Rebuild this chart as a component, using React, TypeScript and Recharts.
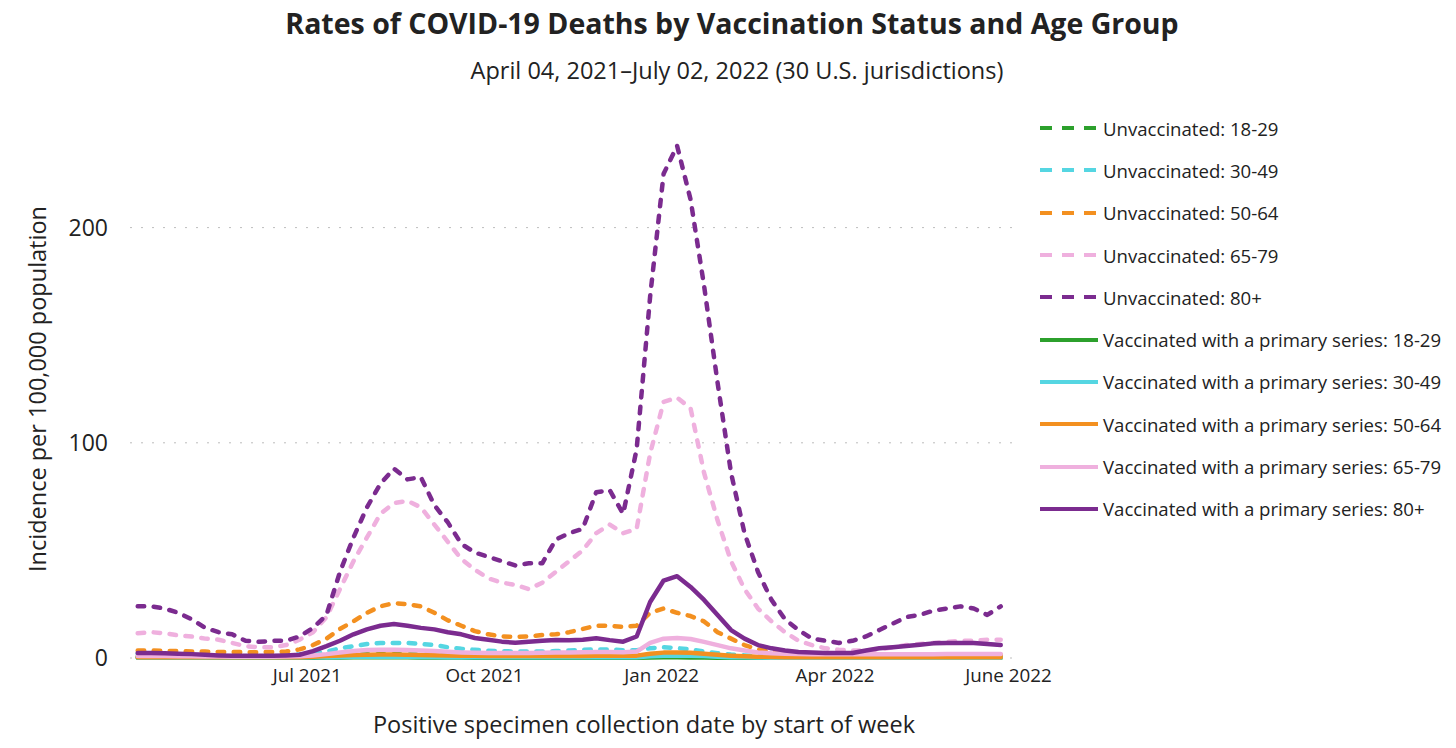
import { LineChart, Line, XAxis, YAxis, CartesianGrid, Label } from "recharts";

// weekly rates per 100,000, weeks starting 2021-04-04 through 2022-06-26
const WEEK_COUNT = 65;
const WEEK_DAYS = Array.from({ length: WEEK_COUNT }, (_, i) => i * 7);

const UNVAX_18_29 = [
  0.7, 0.7, 0.7, 0.6, 0.6, 0.5, 0.5, 0.5, 0.4, 0.4, 0.4, 0.5, 0.6, 0.8, 1, 1.3, 1.5, 1.7, 1.8, 1.8,
  1.7, 1.6, 1.4, 1.2, 1.1, 1, 0.9, 0.8, 0.8, 0.8, 0.8, 0.8, 0.9, 0.9, 1, 1, 0.9, 0.9, 1.1, 1.3,
  1.2, 1, 0.8, 0.6, 0.5, 0.4, 0.3, 0.3, 0.3, 0.3, 0.3, 0.3, 0.3, 0.3, 0.3, 0.3, 0.3, 0.3, 0.3, 0.3,
  0.3, 0.3, 0.3, 0.3, 0.3,
];
const UNVAX_30_49 = [
  2, 2, 1.9, 1.8, 1.7, 1.6, 1.5, 1.4, 1.3, 1.3, 1.3, 1.4, 1.6, 2, 3, 4.5, 5.5, 6.5, 7, 7,
  7, 6.5, 6, 5, 4.3, 3.8, 3.4, 3.2, 3, 3, 3, 3.2, 3.5, 3.8, 4, 4, 3.6, 3.6, 4.5, 5,
  4.6, 4, 3, 2.2, 1.6, 1.2, 0.9, 0.8, 0.7, 0.6, 0.6, 0.5, 0.5, 0.5, 0.5, 0.5, 0.5, 0.6, 0.6, 0.6,
  0.6, 0.6, 0.6, 0.6, 0.6,
];
const UNVAX_50_64 = [
  3.5, 3.5, 3.3, 3.2, 3, 3, 2.8, 2.8, 2.7, 2.7, 2.8, 3, 4, 6, 9, 13.5, 17, 21, 24, 25.5,
  25, 24, 21, 17.5, 15, 12.5, 11, 10, 9.8, 10, 10.7, 11, 12, 13.5, 15, 15, 14.4, 15, 21, 23,
  21, 19.5, 17, 12, 9, 6, 4, 3, 2.2, 1.8, 1.5, 1.3, 1.2, 1.2, 1.2, 1.2, 1.2, 1.3, 1.3, 1.3,
  1.3, 1.4, 1.4, 1.4, 1.4,
];
const UNVAX_65_79 = [
  11.5, 12, 11.5, 10.5, 10, 9, 8.5, 7, 5.5, 5, 5, 6, 8.5, 12, 19, 32, 45, 56, 67, 72,
  73, 70, 62, 54, 46, 41, 37, 35, 34, 32, 35, 40, 45, 50, 58, 62, 58, 60, 95, 119,
  121, 116, 86, 64, 45, 32, 23, 17, 12, 8, 6, 4.5, 3.8, 3.5, 3.5, 4, 5, 6, 6.5, 7,
  7.5, 8, 8, 8.5, 8.5,
];
const UNVAX_80 = [
  24, 24, 23, 21, 18, 14, 12, 11, 8, 7.5, 8, 8, 10, 14, 20, 40, 56, 70, 81, 88,
  83, 84, 71, 63, 53, 49, 47, 45, 43, 44, 44, 55, 58, 60, 77, 78, 67, 97, 168, 225,
  238, 213, 173, 128, 86, 58, 40, 27, 18, 13, 9, 8, 7, 8, 10, 13, 16, 19, 20, 22,
  23, 24, 23, 20, 24,
];
const VAX_18_29 = [
  0.1, 0.1, 0.1, 0.1, 0.1, 0.1, 0.1, 0.1, 0.1, 0.1, 0.1, 0.1, 0.1, 0.1, 0.2, 0.2, 0.3, 0.3, 0.3, 0.3,
  0.3, 0.2, 0.2, 0.2, 0.2, 0.1, 0.1, 0.1, 0.1, 0.1, 0.1, 0.1, 0.1, 0.1, 0.1, 0.1, 0.1, 0.1, 0.2, 0.3,
  0.3, 0.2, 0.2, 0.1, 0.1, 0.1, 0.1, 0.1, 0.1, 0.1, 0.1, 0.1, 0.1, 0.1, 0.1, 0.1, 0.1, 0.1, 0.1, 0.1,
  0.1, 0.1, 0.1, 0.1, 0.1,
];
const VAX_30_49 = [
  0.2, 0.2, 0.2, 0.2, 0.2, 0.2, 0.2, 0.2, 0.2, 0.2, 0.2, 0.2, 0.2, 0.3, 0.4, 0.5, 0.6, 0.6, 0.6, 0.6,
  0.6, 0.5, 0.5, 0.4, 0.4, 0.4, 0.3, 0.3, 0.3, 0.3, 0.3, 0.3, 0.3, 0.3, 0.3, 0.3, 0.3, 0.4, 0.8, 1.1,
  1.2, 1.1, 0.9, 0.6, 0.4, 0.3, 0.2, 0.15, 0.15, 0.15, 0.15, 0.15, 0.15, 0.15, 0.15, 0.15, 0.15, 0.15, 0.15, 0.15,
  0.15, 0.15, 0.15, 0.15, 0.15,
];
const VAX_50_64 = [
  0.4, 0.4, 0.4, 0.4, 0.4, 0.4, 0.4, 0.4, 0.4, 0.4, 0.4, 0.4, 0.4, 0.6, 0.9, 1.2, 1.4, 1.5, 1.6, 1.6,
  1.5, 1.4, 1.3, 1.2, 1.1, 1, 0.9, 0.9, 0.9, 0.9, 0.9, 0.9, 0.9, 0.9, 1, 1, 1, 1.1, 2, 2.5,
  2.6, 2.4, 2, 1.5, 1.1, 0.8, 0.6, 0.5, 0.4, 0.4, 0.4, 0.4, 0.4, 0.4, 0.4, 0.4, 0.4, 0.4, 0.4, 0.4,
  0.4, 0.4, 0.4, 0.4, 0.4,
];
const VAX_65_79 = [
  0.9, 0.9, 0.9, 0.8, 0.8, 0.7, 0.7, 0.6, 0.6, 0.6, 0.6, 0.7, 0.8, 1.2, 1.8, 2.6, 3.3, 3.7, 3.8, 3.8,
  3.7, 3.5, 3.2, 2.9, 2.6, 2.4, 2.3, 2.3, 2.3, 2.3, 2.4, 2.5, 2.6, 2.7, 2.8, 2.8, 2.7, 3, 7, 9,
  9.3, 8.8, 7.5, 6, 4.5, 3.5, 2.6, 2.2, 2, 1.9, 1.8, 1.8, 1.7, 1.7, 1.7, 1.7, 1.8, 1.8, 1.8, 1.8,
  1.9, 1.9, 1.9, 1.9, 1.9,
];
const VAX_80 = [
  2.3, 2.3, 2.2, 2, 1.8, 1.5, 1.2, 1, 1, 1, 1, 1.2, 1.5, 3.2, 5.5, 8, 11, 13.3, 15, 15.8,
  15, 14, 13.3, 12, 11, 9.3, 8.5, 7.6, 7.1, 7.5, 8, 8.4, 8.2, 8.5, 9.2, 8.3, 7.6, 10, 26, 36,
  38, 33, 27, 20, 13, 9, 6, 4.5, 3.5, 2.8, 2.5, 2.3, 2.3, 2.3, 3.5, 4.5, 5, 5.6, 6.2, 6.8,
  7, 7, 7, 6.5, 6,
];

const X_TICKS = [88, 180, 272, 362, 452];
const X_TICK_LABELS = ["Jul 2021", "Oct 2021", "Jan 2022", "Apr 2022", "June 2022"];
const Y_TICKS = [0, 100, 200];

const GREEN = "#2ca02c";
const CYAN = "#55d6e2";
const ORANGE = "#f39020";
const PINK = "#efb0de";
const PURPLE = "#7b2b8f";

const FONT = '"Segoe UI", "Open Sans", sans-serif';

const SERIES = [
  { key: "u1829", name: "Unvaccinated: 18-29", values: UNVAX_18_29, color: GREEN, dashed: true },
  { key: "u3049", name: "Unvaccinated: 30-49", values: UNVAX_30_49, color: CYAN, dashed: true },
  { key: "u5064", name: "Unvaccinated: 50-64", values: UNVAX_50_64, color: ORANGE, dashed: true },
  { key: "u6579", name: "Unvaccinated: 65-79", values: UNVAX_65_79, color: PINK, dashed: true },
  { key: "u80", name: "Unvaccinated: 80+", values: UNVAX_80, color: PURPLE, dashed: true },
  { key: "v1829", name: "Vaccinated with a primary series: 18-29", values: VAX_18_29, color: GREEN, dashed: false },
  { key: "v3049", name: "Vaccinated with a primary series: 30-49", values: VAX_30_49, color: CYAN, dashed: false },
  { key: "v5064", name: "Vaccinated with a primary series: 50-64", values: VAX_50_64, color: ORANGE, dashed: false },
  { key: "v6579", name: "Vaccinated with a primary series: 65-79", values: VAX_65_79, color: PINK, dashed: false },
  { key: "v80", name: "Vaccinated with a primary series: 80+", values: VAX_80, color: PURPLE, dashed: false },
];

const data = WEEK_DAYS.map((day, i) => {
  const row: Record<string, number> = { day };
  SERIES.forEach((s) => {
    row[s.key] = s.values[i];
  });
  return row;
});

function LegendList() {
  return (
    <div
      style={{
        position: "absolute",
        left: 1040,
        top: 107,
        fontFamily: FONT,
        fontSize: 18.6,
        color: "#222",
      }}
    >
      {SERIES.map((s) => (
        <div key={s.key} style={{ height: 42.3, display: "flex", alignItems: "center" }}>
          <svg width={58} height={8} style={{ flex: "none" }}>
            <line
              x1={0}
              y1={4}
              x2={58}
              y2={4}
              stroke={s.color}
              strokeWidth={4}
              strokeDasharray={s.dashed ? "12 10" : undefined}
            />
          </svg>
          <span style={{ marginLeft: 5, whiteSpace: "nowrap" }}>{s.name}</span>
        </div>
      ))}
    </div>
  );
}

export default function App() {
  return (
    <div style={{ position: "absolute", left: 0, top: 0, width: 1456, height: 748, background: "#fff" }}>
      <div
        style={{
          position: "absolute",
          top: 4,
          left: 4,
          width: 1456,
          textAlign: "center",
          fontFamily: FONT,
          fontWeight: 700,
          fontSize: 28.5,
          color: "#222",
        }}
      >
        Rates of COVID-19 Deaths by Vaccination Status and Age Group
      </div>
      <div
        style={{
          position: "absolute",
          top: 54,
          left: 9,
          width: 1456,
          textAlign: "center",
          fontFamily: FONT,
          fontSize: 23.5,
          color: "#222",
        }}
      >
        April 04, 2021–July 02, 2022 (30 U.S. jurisdictions)
      </div>
      <LineChart
        width={1456}
        height={748}
        data={data}
        margin={{ top: 120, right: 436, bottom: 0, left: 0 }}
        style={{ position: "absolute", left: 0, top: 0 }}
      >
        <CartesianGrid
          vertical={false}
          horizontalValues={Y_TICKS}
          stroke="#bdbdbd"
          strokeDasharray="2 9"
        />
        <XAxis
          dataKey="day"
          type="number"
          domain={[-4, 458]}
          ticks={X_TICKS}
          tickFormatter={(v: number) => X_TICK_LABELS[X_TICKS.indexOf(v)]}
          axisLine={false}
          tickLine={false}
          tickSize={0}
          tickMargin={11}
          height={90}
          tick={{ fontFamily: FONT, fontSize: 18.8, fill: "#222" }}
          interval={0}
        >
          <Label
            content={() => (
              <text x={644} y={733} textAnchor="middle" fontFamily={FONT} fontSize={23.5} fill="#222">
                Positive specimen collection date by start of week
              </text>
            )}
          />
        </XAxis>
        <YAxis
          domain={[0, 250]}
          ticks={Y_TICKS}
          axisLine={false}
          tickLine={false}
          tickSize={0}
          tickMargin={22}
          width={130}
          tick={{ fontFamily: FONT, fontSize: 23, fill: "#222" }}
        >
          <Label
            content={() => (
              <text
                x={46}
                y={389}
                textAnchor="middle"
                transform="rotate(-90 46 389)"
                fontFamily={FONT}
                fontSize={23.5}
                fill="#222"
              >
                Incidence per 100,000 population
              </text>
            )}
          />
        </YAxis>
        {SERIES.map((s) => (
          <Line
            key={s.key}
            type="linear"
            dataKey={s.key}
            name={s.name}
            stroke={s.color}
            strokeWidth={4.5}
            strokeDasharray={s.dashed ? "6.5 9.5" : undefined}
            strokeLinecap="round"
            strokeLinejoin="round"
            dot={false}
            activeDot={false}
            isAnimationActive={false}
          />
        ))}
      </LineChart>
      <LegendList />
    </div>
  );
}
